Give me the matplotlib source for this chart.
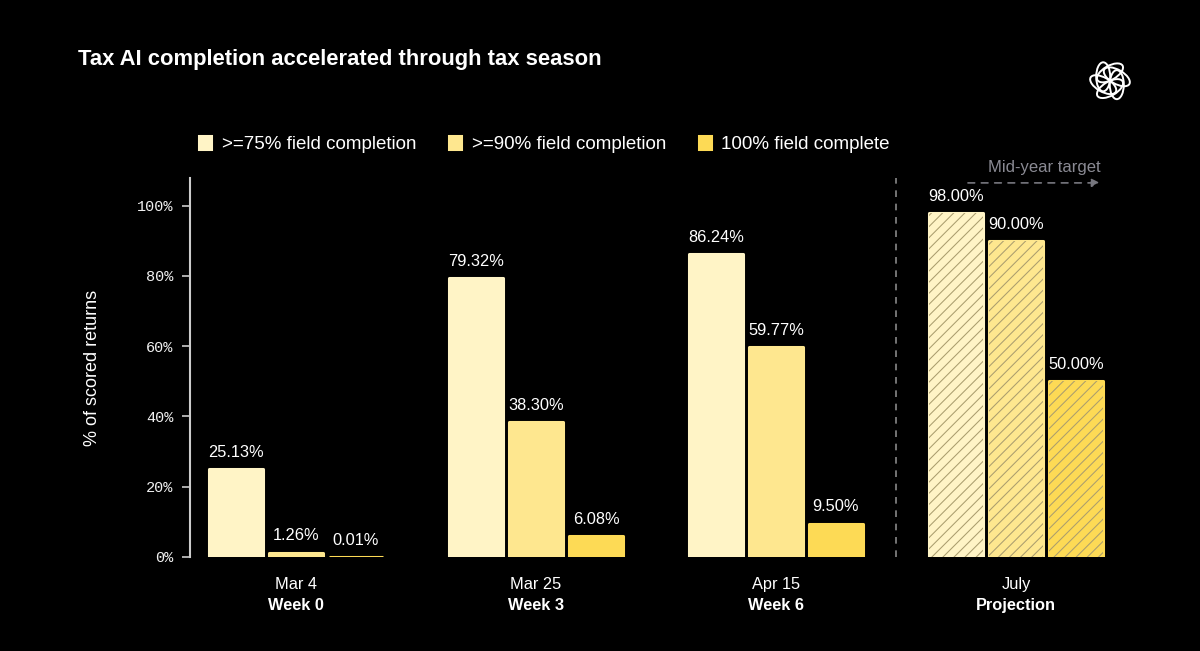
import numpy as np
import matplotlib.pyplot as plt
from matplotlib.patches import Ellipse
import matplotlib as mpl

# data
groups = ['Mar 4', 'Mar 25', 'Apr 15', 'July']
subs = ['Week 0', 'Week 3', 'Week 6', 'Projection']
series = ['>=75% field completion', '>=90% field completion', '100% field complete']
v75 = [25.13, 79.32, 86.24, 98.00]
v90 = [1.26, 38.30, 59.77, 90.00]
v100 = [0.01, 6.08, 9.50, 50.00]
yticks = [0, 20, 40, 60, 80, 100]

colors = ['#FFF4C6', '#FEE78F', '#FDDA55']
bg = 'black'
mpl.rcParams['font.family'] = ['Liberation Sans', 'DejaVu Sans']
mpl.rcParams['hatch.linewidth'] = 0.75

fig = plt.figure(figsize=[12, 6.51], dpi=100, facecolor=bg)
ax = fig.add_axes([0.1583, 0.1444, 0.7667, 0.5822], facecolor=bg)

x = np.arange(len(groups))
step = 0.25
width = 0.222
vals = [v75, v90, v100]
for i, (v, c) in enumerate(zip(vals, colors)):
    xs = x + (i - 1) * step
    for j in range(len(groups)):
        ax.bar(xs[j], v[j], width=width, color=c, edgecolor=c, linewidth=2.2,
               joinstyle='round', zorder=2,
               label=series[i] if j == 0 else None)
        if j == 3:
            # projection bars get a diagonal hatch on top
            ax.bar(xs[j], v[j], width=width, facecolor='none',
                   edgecolor='#AA9D6E', linewidth=0, hatch='///', zorder=3)
        ax.text(xs[j], v[j] + 2.6, '%.2f%%' % v[j], ha='center', va='bottom',
                color='white', fontsize=11.8)

ax.set_xlim(-0.4417, 3.3917)
ax.set_ylim(0, 107.9)
ax.set_yticks(yticks)
ax.set_yticklabels(['%d%%' % t for t in yticks], family='Liberation Mono',
                   fontsize=11)
ax.tick_params(axis='y', colors='#CCCCCC', length=6, width=1.2, pad=6,
               labelcolor='#F0F0F0')
ax.set_xticks(x)
ax.set_xticklabels([])
ax.tick_params(axis='x', length=0)
for xi, g, s in zip(x, groups, subs):
    ax.annotate(g, (xi, 0), xytext=(0, -14.5), textcoords='offset points',
                ha='center', va='top', color='white', fontsize=11.8)
    ax.annotate(s, (xi, 0), xytext=(0, -29.5), textcoords='offset points',
                ha='center', va='top', color='white', fontsize=11.8,
                fontweight='bold')
for s in ['top', 'right', 'bottom']:
    ax.spines[s].set_visible(False)
ax.spines['left'].set_color('#CCCCCC')
ax.spines['left'].set_linewidth(1.5)
ax.set_ylabel('% of scored returns', color='white', fontsize=13, labelpad=26)

# projection divider and target arrow
ax.axvline(2.5, ymin=0, ymax=1, color='#888888', ls=(0, (4, 4)), lw=1.2, zorder=1)
ax.annotate('', xy=(3.35, 106.5), xytext=(2.8, 106.5),
            arrowprops=dict(arrowstyle='-|>', ls=(0, (4, 4)), color='#77777F',
                            lw=1.2, mutation_scale=12, shrinkA=0, shrinkB=0),
            annotation_clip=False)
ax.text(3.12, 108.7, 'Mid-year target', ha='center', va='bottom', color='#8A8A93',
        fontsize=12, clip_on=False)

fig.legend(loc='upper left', bbox_to_anchor=(0.152, 0.817), ncol=3, frameon=False,
           fontsize=13.5, labelcolor='white', handlelength=0.65, handleheight=0.65,
           handletextpad=0.55, columnspacing=1.75)

fig.text(0.065, 0.909, 'Tax AI completion accelerated through tax season',
         color='white', fontsize=15.8, fontweight='bold', va='center')

# small logo mark
lax = fig.add_axes([0.9, 0.83, 0.05, 0.092], facecolor='none')
lax.set_xlim(-1.6, 1.6)
lax.set_ylim(-1.6, 1.6)
lax.set_aspect('equal')
lax.axis('off')
for k in range(6):
    ang = np.radians(k * 60 + 30)
    cx, cy = 0.42 * np.cos(ang), 0.42 * np.sin(ang)
    lax.add_patch(Ellipse((cx, cy), 0.75, 1.55, angle=np.degrees(ang) + 30,
                          fill=False, ec='white', lw=1.4))

fig.savefig('out.png', dpi=100, facecolor=bg)
